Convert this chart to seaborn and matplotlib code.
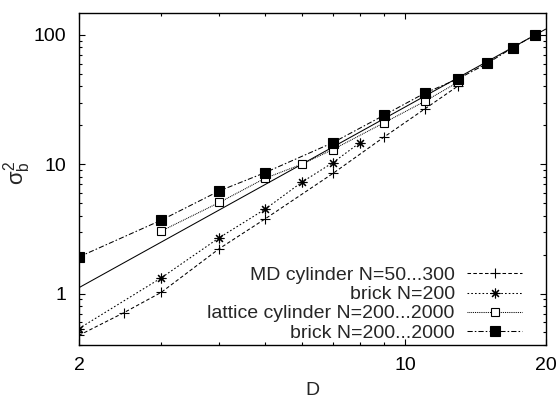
import matplotlib
matplotlib.use("Agg")
import matplotlib.pyplot as plt
import seaborn as sns
import pandas as pd
from matplotlib.ticker import FixedLocator, NullFormatter, FixedFormatter

# data (log-log)
D_md = [2, 2.5, 3, 4, 5, 7, 9, 11, 13]
s_md = [0.475, 0.713, 1.02, 2.23, 3.76, 8.49, 16.2, 26.7, 40.5]

D_b200 = [2, 3, 4, 5, 6, 7, 8]
s_b200 = [0.536, 1.32, 2.71, 4.47, 7.25, 10.3, 14.7]

D_lat = [3, 4, 5, 6, 7, 9, 11, 13]
s_lat = [3.04, 5.07, 7.77, 10.0, 13.0, 20.9, 30.6, 43.3]

D_brick = [2, 3, 4, 5, 7, 9, 11, 13, 15, 17, 19]
s_brick = [1.92, 3.69, 6.23, 8.59, 14.7, 23.9, 35.4, 45.9, 60.4, 79.8, 100.5]

# reference power-law line D^2/3.6
D_ref = [2, 20]
s_ref = [1.11, 111]

labels = ["MD cylinder N=50...300", "brick N=200",
          "lattice cylinder N=200...2000", "brick N=200...2000"]

x_ticks = [2, 10, 20]
y_ticks = [1, 10, 100]

sns.set_style("ticks", rc={"xtick.direction": "in", "ytick.direction": "in"})
plt.rcParams['font.family'] = ['Liberation Sans', 'DejaVu Sans']
plt.rcParams['mathtext.fontset'] = 'custom'
plt.rcParams['mathtext.rm'] = 'Liberation Sans'
plt.rcParams['mathtext.it'] = 'Liberation Sans'

fig = plt.figure(figsize=(5.6, 4.01), dpi=100)
ax = fig.add_axes([0.141, 0.1397, 0.8335, 0.828])

fs = 14
lw = 0.75
sns.lineplot(x=D_ref, y=s_ref, ax=ax, color="black", lw=lw, estimator=None, errorbar=None)

series = [
    (D_md, s_md, dict(marker="+", ms=7, mew=0.8, ls=(0, (3.4, 2.2)))),
    (D_b200, s_b200, dict(marker=(8, 2, 0), ms=7, mew=0.8, ls=(0, (1.6, 2.0)))),
    (D_lat, s_lat, dict(marker="s", ms=6, mew=0.8, mfc="white", ls=(0, (0.9, 0.9)))),
    (D_brick, s_brick, dict(marker="s", ms=7, mew=0.8, mfc="black", ls=(0, (5, 2, 1.5, 2)))),
]
for (xs, ys, kw), lab in zip(series, labels):
    df = pd.DataFrame({"D": xs, "s": ys})
    sns.lineplot(data=df, x="D", y="s", ax=ax, color="black", lw=lw,
                 mec="black", estimator=None, errorbar=None, label=lab, **kw)

ax.set_xscale("log")
ax.set_yscale("log")
ax.set_xlim(2, 20)
ax.set_ylim(0.4, 148)

ax.xaxis.set_major_locator(FixedLocator(x_ticks))
ax.xaxis.set_major_formatter(FixedFormatter([str(t) for t in x_ticks]))
ax.xaxis.set_minor_locator(FixedLocator([3, 4, 5, 6, 7, 8, 9]))
ax.xaxis.set_minor_formatter(NullFormatter())
ax.yaxis.set_major_locator(FixedLocator(y_ticks))
ax.yaxis.set_major_formatter(FixedFormatter([str(t) for t in y_ticks]))
ax.yaxis.set_minor_formatter(NullFormatter())

ax.tick_params(which="both", top=True, right=True, direction="in",
               labelsize=fs, pad=9, width=0.8, colors="black")
ax.tick_params(which="major", length=4)
ax.tick_params(which="minor", length=2.2)
for sp in ax.spines.values():
    sp.set_linewidth(1.0)
    sp.set_color("black")

ax.set_xlabel("D", fontsize=fs)
ax.set_ylabel(r"$\sigma_b^2$", fontsize=16)
ax.xaxis.set_label_coords(0.5, -0.113)
ax.yaxis.set_label_coords(-0.098, 0.52)

h, l = ax.get_legend_handles_labels()
ax.legend(h, l, loc="lower right", bbox_to_anchor=(0.949, 0.01), frameon=False,
          markerfirst=False, fontsize=fs, handlelength=2.8, handletextpad=0.65,
          labelspacing=0.08, borderpad=0, borderaxespad=0)

fig.savefig("out.png", dpi=100)
